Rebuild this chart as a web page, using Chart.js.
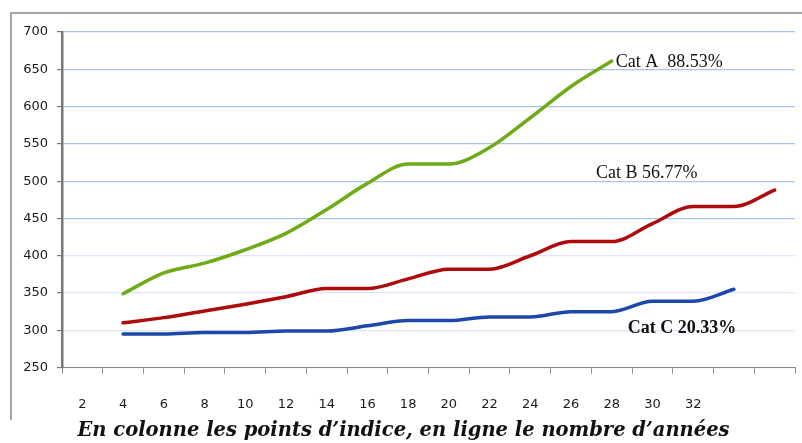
<!DOCTYPE html>
<html lang="fr">
<head>
    <meta charset="UTF-8">
    <title>Points d'indice par années</title>
    <script src="https://cdn.jsdelivr.net/npm/chart.js"></script>
    <style>
        body {
            margin: 0;
            padding: 0;
            background: #ffffff;
        }
        .wrap {
            width: 802px;
            height: 443px;
            position: relative;
        }
    </style>
</head>
<body>
    <div class="wrap">
        <canvas id="chart"></canvas>
    </div>

    <script>
        // Années (catégories) et étiquettes de l'axe
        const years = [2, 4, 6, 8, 10, 12, 14, 16, 18, 20, 22, 24, 26, 28, 30, 32, 34, 36];
        const tickLabels = ['2', '4', '6', '8', '10', '12', '14', '16', '18', '20', '22', '24', '26', '28', '30', '32', '', ''];

        // Points d'indice par catégorie
        const catA = [null, 349, 377, 390, 408, 430, 462, 497, 523, 523, 545, 585, 627, 661, null, null, null, null];
        const catB = [null, 310, 317, 326, 335, 345, 356, 356, 369, 382, 382, 400, 419, 419, 443, 466, 466, 488];
        const catC = [null, 295, 295, 297, 297, 299, 299, 306, 313, 313, 318, 318, 325, 325, 339, 339, 355, null];

        const yTicks = [250, 300, 350, 400, 450, 500, 550, 600, 650, 700];

        // Étiquettes à droite des courbes
        const notes = [
            { text: 'Cat A  88.53%', at: 13, dx: 4, value: 660, font: '18px "Liberation Serif"' },
            { text: 'Cat B 56.77%', at: 12, dx: 25, value: 510, font: '18px "Liberation Serif"' },
            { text: 'Cat C 20.33%', at: 13, dx: 16, value: 303, font: 'bold 18px "Liberation Serif"' }
        ];

        // Cadre gris + étiquettes
        const decor = {
            id: 'decor',
            beforeDraw(chart) {
                const ctx = chart.ctx;
                ctx.save();
                ctx.strokeStyle = '#a6a6a6';
                ctx.lineWidth = 2;
                ctx.beginPath();
                ctx.moveTo(802, 13);
                ctx.lineTo(11, 13);
                ctx.lineTo(11, 420);
                ctx.stroke();
                ctx.restore();
            },
            afterDatasetsDraw(chart) {
                const ctx = chart.ctx;
                const x = chart.scales.x;
                const y = chart.scales.y;
                ctx.save();
                ctx.fillStyle = '#111';
                ctx.textBaseline = 'middle';
                ctx.textAlign = 'left';
                notes.forEach(n => {
                    ctx.font = n.font;
                    ctx.fillText(n.text, x.getPixelForValue(n.at) + n.dx, y.getPixelForValue(n.value));
                });
                ctx.restore();
            }
        };

        const config = {
            type: 'line',
            data: {
                labels: years,
                datasets: [
                    { label: 'Cat A', data: catA, borderColor: '#6fab17' },
                    { label: 'Cat B', data: catB, borderColor: '#ae0c0c' },
                    { label: 'Cat C', data: catC, borderColor: '#1c47ab' }
                ]
            },
            options: {
                responsive: false,
                animation: false,
                layout: {
                    padding: { left: 12, right: 7, top: 32, bottom: 0 }
                },
                elements: {
                    line: { borderWidth: 3.5, cubicInterpolationMode: 'monotone', borderCapStyle: 'round' },
                    point: { radius: 0 }
                },
                plugins: {
                    legend: { display: false },
                    tooltip: { enabled: false },
                    title: {
                        display: true,
                        position: 'bottom',
                        text: 'En colonne les points d\u2019indice, en ligne le nombre d\u2019ann\u00e9es',
                        color: '#111',
                        font: { family: '"DejaVu Serif"', size: 19.5, style: 'italic', weight: 'bold' },
                        padding: { top: 0, bottom: 0 }
                    }
                },
                scales: {
                    x: {
                        offset: true,
                        grid: {
                            offset: true,
                            drawOnChartArea: false,
                            drawTicks: true,
                            tickLength: 6,
                            color: '#8a8a8a'
                        },
                        border: { color: '#8a8a8a', width: 1 },
                        ticks: {
                            autoSkip: false,
                            maxRotation: 0,
                            padding: 23,
                            color: '#1a1a1a',
                            font: { family: '"DejaVu Sans"', size: 13 },
                            callback: (v, i) => tickLabels[i]
                        },
                        afterFit(scale) { scale.height = 52; }
                    },
                    y: {
                        min: 250,
                        max: 700,
                        afterBuildTicks(scale) {
                            scale.ticks = yTicks.map(v => ({ value: v }));
                        },
                        grid: {
                            color: ctx => (ctx.tick && ctx.tick.value <= 400 ? '#dde6f7' : '#a9c2ee'),
                            tickLength: 5,
                            tickColor: '#777',
                            lineWidth: 1.2
                        },
                        border: { color: '#777', width: 2.5 },
                        ticks: {
                            padding: 9,
                            color: '#1a1a1a',
                            font: { family: '"DejaVu Sans"', size: 13 }
                        },
                        afterFit(scale) { scale.width = 50; }
                    }
                }
            },
            plugins: [decor]
        };

        const canvas = document.getElementById('chart');
        canvas.width = 802;
        canvas.height = 443;
        new Chart(canvas, config);
    </script>
</body>
</html>
